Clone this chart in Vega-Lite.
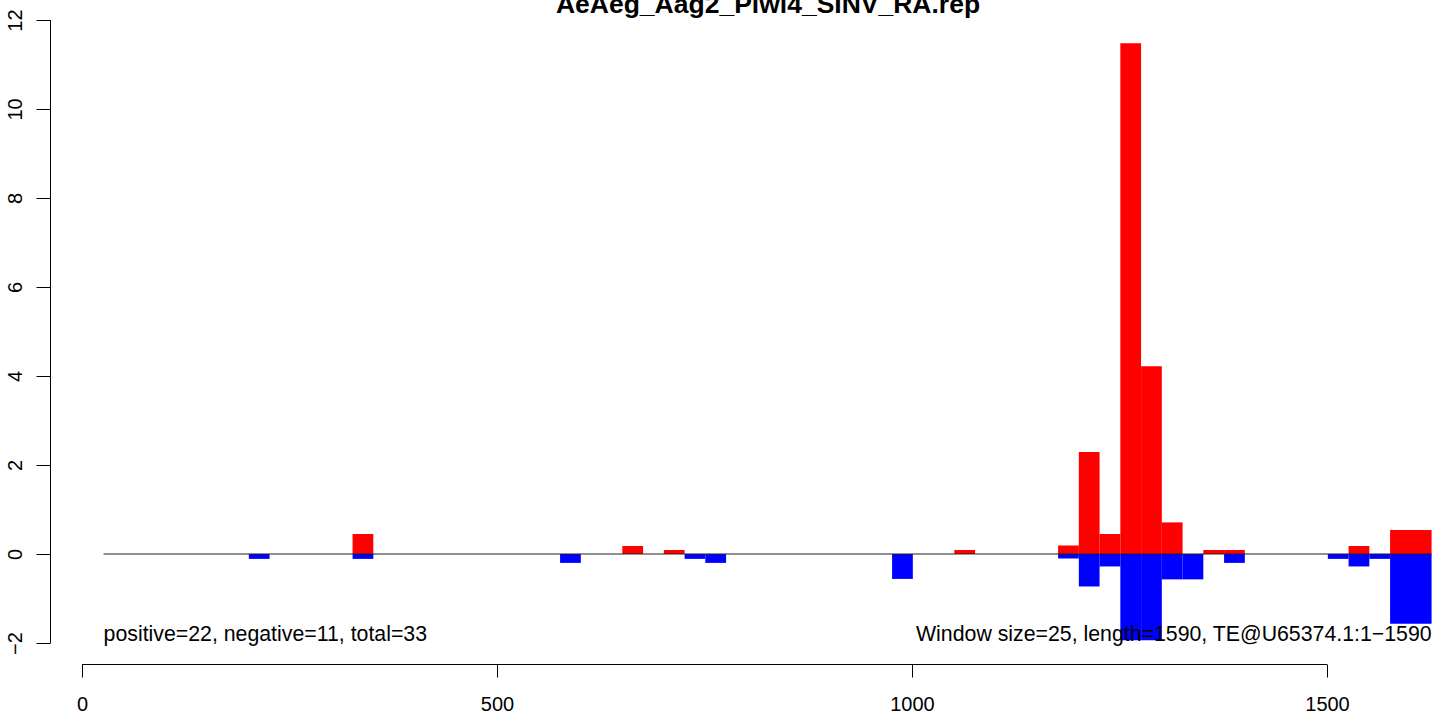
{
  "$schema": "https://vega.github.io/schema/vega-lite/v6.json",
  "autosize": "none",
  "padding": {"left": 50, "top": 20, "right": 0, "bottom": 51},
  "width": 1394,
  "height": 644,
  "background": "white",
  "config": {
    "view": {"stroke": null},
    "font": "Liberation Sans"
  },
  "title": {
    "text": "AeAeg_Aag2_Piwi4_SINV_RA.rep",
    "font": "Liberation Sans",
    "fontSize": 26.5,
    "fontWeight": "bold",
    "color": "black",
    "anchor": "middle",
    "frame": "group",
    "dx": 21,
    "offset": -10
  },
  "datasets": {
    "bars": [
      {"start": 201, "end": 226, "value": -0.11, "strand": "neg"},
      {"start": 326, "end": 351, "value": 0.45, "strand": "pos"},
      {"start": 326, "end": 351, "value": -0.11, "strand": "neg"},
      {"start": 576, "end": 601, "value": -0.2, "strand": "neg"},
      {"start": 651, "end": 676, "value": 0.18, "strand": "pos"},
      {"start": 701, "end": 726, "value": 0.09, "strand": "pos"},
      {"start": 726, "end": 751, "value": -0.11, "strand": "neg"},
      {"start": 751, "end": 776, "value": -0.2, "strand": "neg"},
      {"start": 976, "end": 1001, "value": -0.56, "strand": "neg"},
      {"start": 1051, "end": 1076, "value": 0.09, "strand": "pos"},
      {"start": 1176, "end": 1201, "value": 0.19, "strand": "pos"},
      {"start": 1176, "end": 1201, "value": -0.1, "strand": "neg"},
      {"start": 1201, "end": 1226, "value": 2.29, "strand": "pos"},
      {"start": 1201, "end": 1226, "value": -0.73, "strand": "neg"},
      {"start": 1226, "end": 1251, "value": 0.45, "strand": "pos"},
      {"start": 1226, "end": 1251, "value": -0.28, "strand": "neg"},
      {"start": 1251, "end": 1276, "value": 11.48, "strand": "pos"},
      {"start": 1251, "end": 1276, "value": -1.94, "strand": "neg"},
      {"start": 1276, "end": 1301, "value": 4.22, "strand": "pos"},
      {"start": 1276, "end": 1301, "value": -1.94, "strand": "neg"},
      {"start": 1301, "end": 1326, "value": 0.71, "strand": "pos"},
      {"start": 1301, "end": 1326, "value": -0.57, "strand": "neg"},
      {"start": 1326, "end": 1351, "value": -0.57, "strand": "neg"},
      {"start": 1351, "end": 1376, "value": 0.09, "strand": "pos"},
      {"start": 1376, "end": 1401, "value": 0.09, "strand": "pos"},
      {"start": 1376, "end": 1401, "value": -0.2, "strand": "neg"},
      {"start": 1501, "end": 1526, "value": -0.11, "strand": "neg"},
      {"start": 1526, "end": 1551, "value": 0.18, "strand": "pos"},
      {"start": 1526, "end": 1551, "value": -0.28, "strand": "neg"},
      {"start": 1551, "end": 1576, "value": -0.11, "strand": "neg"},
      {"start": 1576, "end": 1626, "value": 0.54, "strand": "pos"},
      {"start": 1576, "end": 1626, "value": -1.57, "strand": "neg"}
    ]
  },
  "layer": [
    {
      "data": {"name": "bars"},
      "mark": {"type": "bar", "strokeWidth": 0},
      "encoding": {
        "x": {
          "field": "start",
          "type": "quantitative",
          "scale": {"domain": [-38.55, 1640.96], "nice": false, "zero": false},
          "axis": {"title": null, "values": [0, 500, 1000, 1500], "format": "d", "grid": false, "domain": false, "tickColor": "black", "tickWidth": 1, "tickSize": 13, "labelColor": "black", "labelFont": "Liberation Sans", "labelFontSize": 20, "labelBaseline": "alphabetic", "labelPadding": 33, "labelAlign": "center", "labelFlush": false, "labelOverlap": false}
        },
        "x2": {"field": "end"},
        "y": {
          "field": "value",
          "type": "quantitative",
          "scale": {"domain": [-2.472, 12], "nice": false, "zero": false},
          "axis": {"title": null, "values": [-2, 0, 2, 4, 6, 8, 10, 12], "format": "d", "grid": false, "domain": false, "tickColor": "black", "tickWidth": 1, "tickSize": 14, "labelColor": "black", "labelFont": "Liberation Sans", "labelFontSize": 20, "labelAngle": -90, "labelAlign": "center", "labelBaseline": "alphabetic", "labelPadding": 15, "labelFlush": false, "labelOverlap": false}
        },
        "y2": {"datum": 0},
        "color": {
          "field": "strand",
          "type": "nominal",
          "scale": {"domain": ["pos", "neg"], "range": ["#FF0000", "#0000FF"]},
          "legend": null
        }
      }
    },
    {
      "data": {"values": [{}]},
      "mark": {"type": "rule", "color": "#222222", "strokeWidth": 1},
      "encoding": {
        "x": {"datum": 26, "type": "quantitative"},
        "x2": {"datum": 1626},
        "y": {"datum": 0, "type": "quantitative"}
      }
    },
    {
      "data": {"values": [{}]},
      "mark": {"type": "rule", "color": "black", "strokeWidth": 1},
      "encoding": {
        "x": {"datum": 0, "type": "quantitative"},
        "x2": {"datum": 1500},
        "y": {"datum": -2.4831, "type": "quantitative"}
      }
    },
    {
      "data": {"values": [{}]},
      "mark": {"type": "rule", "color": "black", "strokeWidth": 1},
      "encoding": {
        "x": {"datum": -37.95, "type": "quantitative"},
        "y": {"datum": -2, "type": "quantitative"},
        "y2": {"datum": 12}
      }
    },
    {
      "data": {"values": [{"label": "positive=22, negative=11, total=33"}]},
      "mark": {"type": "text", "align": "left", "baseline": "alphabetic", "fontSize": 21.3, "font": "Liberation Sans", "color": "black"},
      "encoding": {
        "x": {"datum": 26, "type": "quantitative"},
        "y": {"datum": -1.955, "type": "quantitative"},
        "text": {"field": "label"}
      }
    },
    {
      "data": {"values": [{"label": "Window size=25, length=1590, TE@U65374.1:1−1590"}]},
      "mark": {"type": "text", "align": "right", "baseline": "alphabetic", "fontSize": 21.3, "font": "Liberation Sans", "color": "black"},
      "encoding": {
        "x": {"datum": 1626, "type": "quantitative"},
        "y": {"datum": -1.955, "type": "quantitative"},
        "text": {"field": "label"}
      }
    }
  ]
}
